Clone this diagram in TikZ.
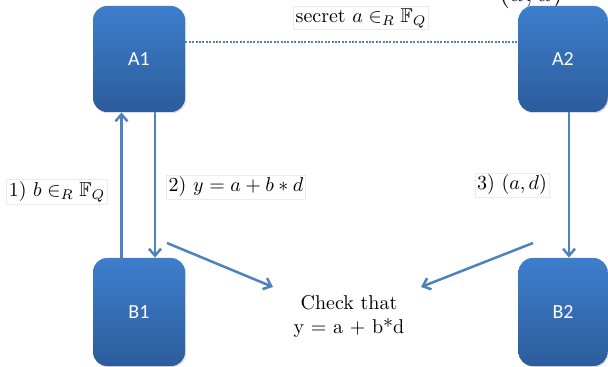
\documentclass[tikz,border=0pt]{standalone}
\usepackage{amssymb}
\usepackage{fontspec}
\newfontfamily\boxfont{Carlito}
\usetikzlibrary{arrows.meta,shadows}
\definecolor{boxtop}{RGB}{62,126,204}
\definecolor{boxbot}{RGB}{44,92,156}
\definecolor{linec}{RGB}{79,129,189}
\begin{document}
\begin{tikzpicture}[x=0.5pt,y=-0.5pt,
  party/.style={draw=none, rounded corners=7pt, top color=boxtop, bottom color=boxbot,
    minimum width=46pt, minimum height=53pt, text=white,
    font=\boxfont\fontsize{10}{12}\selectfont,
    drop shadow={opacity=0.25, shadow xshift=0.6pt, shadow yshift=-0.6pt}},
  conn/.style={draw=linec, line width=1.25pt},
  tip/.style={-{Straight Barb[length=3.5pt,width=6pt]}},
  lab/.style={draw=black!8, line width=0.3pt, inner sep=1pt, fill=white, font=\fontsize{10}{12}\selectfont},
  plain/.style={inner sep=1pt, font=\fontsize{10}{12}\selectfont, align=center}]
\useasboundingbox (0,0) rectangle (608,367);
\clip (0,0) rectangle (608,367);
% partially visible label at top
\node[anchor=base, font=\fontsize{14}{16}\selectfont] (topad) at (531,2) {$(a,d)$};
% parties
\node[party] (A1) at (139,59) {A1};
\node[party, minimum width=44.5pt] (A2) at (563,59) {A2};
\node[party, minimum height=54pt] (B1) at (139,312) {B1};
\node[party, minimum width=44.5pt, minimum height=54pt] (B2) at (563,312) {B2};
% check text
\node[plain] (check) at (349,316) {Check that\\y = a + b*d};
% connectors
\draw[conn, line width=1pt, dash pattern=on 1pt off 0.7pt] ([yshift=8.5pt]A1.east) -- ([yshift=8.5pt]A2.west);
\draw[conn,tip] ([xshift=-8.75pt]B1.north) -- ([xshift=-8.75pt]A1.south);
\draw[conn,tip] ([xshift=8pt]A1.south) -- ([xshift=8pt]B1.north);
\draw[conn,tip] ([xshift=3pt]A2.south) -- ([xshift=3pt]B2.north);
\coordinate (d1s) at (167,243);
\coordinate (d1e) at (273,287);
\coordinate (d2s) at (533,243);
\coordinate (d2e) at (421,287);
\draw[conn,tip] (d1s) -- (d1e);
\draw[conn,tip] (d2s) -- (d2e);
% labels
\node[lab] (secret) at (361,18) {secret $a \in_R \mathbb{F}_Q$};
\node[lab] (l1) at (57,192) {1) $b \in_R \mathbb{F}_Q$};
\node[lab] (l2) at (236,187) {2) $y = a + b * d$};
\node[lab] (l3) at (512,185) {3) $(a,d)$};
\end{tikzpicture}
\end{document}
